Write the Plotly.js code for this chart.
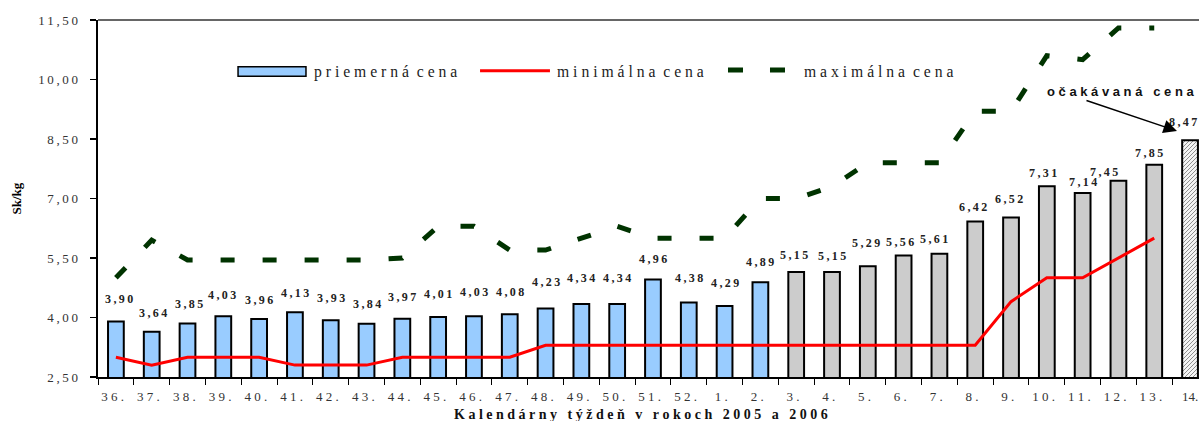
<!DOCTYPE html>
<html><head><meta charset="utf-8">
<script src="https://cdn.plot.ly/plotly-3.0.1.min.js"></script>
<style>html,body{margin:0;padding:0;background:#fff;overflow:hidden}</style>
</head><body><div id="chart" style="width:1199px;height:421px"></div>
<script>
// ---------------- data ----------------
const weeks = ['36.','37.','38.','39.','40.','41.','42.','43.','44.','45.','46.','47.','48.','49.','50.','51.','52.',
               '1.','2.','3.','4.','5.','6.','7.','8.','9.','10.','11.','12.','13.','14.'];
const avgPrice = [3.90,3.64,3.85,4.03,3.96,4.13,3.93,3.84,3.97,4.01,4.03,4.08,4.23,4.34,4.34,4.96,4.38,
                  4.29,4.89,5.15,5.15,5.29,5.56,5.61,6.42,6.52,7.31,7.14,7.45,7.85,8.47];
const minPrice = [3.00,2.80,3.00,3.00,3.00,2.80,2.80,2.80,3.00,3.00,3.00,3.00,3.30,3.30,3.30,3.30,3.30,
                  3.30,3.30,3.30,3.30,3.30,3.30,3.30,3.30,4.40,5.00,5.00,5.50,6.00,null];
const maxPrice = [5.00,5.95,5.45,5.45,5.45,5.45,5.45,5.45,5.50,6.30,6.30,5.70,5.70,6.00,6.30,6.00,6.00,
                  6.00,7.00,7.00,7.30,7.90,7.90,7.90,9.20,9.20,10.60,10.50,11.30,11.30,null];
const yTickVals = [2.5,4,5.5,7,8.5,10,11.5];
const yTickLabels = ['2,50','4,00','5,50','7,00','8,50','10,00','11,50'];
const seriesNames = ['priemerná cena','minimálna cena','maximálna cena'];
const xTitle = 'Kalendárny týždeň v rokoch 2005 a 2006';
const yTitle = 'Sk/kg';
const forecastNote = 'očakávaná cena';
const avgLabels = avgPrice.map(v => v.toFixed(2).replace('.', ','));

// ---------------- presentation ----------------
const NB = '\u00a0', TH = '\u2009';
function spaced(s, sep, wsep){ return s.split(' ').map(w => Array.from(w).join(sep)).join(wsep); }
// label placement nudges (px) for the value labels above the bars
const labelLift = [22,19,19,21,19,19,22,20,22,23,24,22,26,26,26,20,24,23,20,17,16,23,14,15,15,19,13,11,9,12,18];
const labelNudge = [3,1,1,-1,0,0,0,0,0,0,0,0,0,0,0,0,0,0,0,-2,0,-2,-4,-5,-2,-2,-4,0,-14,-5,-7];
const BLUE = '#99CCFF', GRAY = '#CCCCCC', HATCH = '#E2E2E2';
const SERIF = 'Liberation Serif, Times New Roman, serif';
const SANS = 'Liberation Sans, Arial, sans-serif';
const nActual = weeks.indexOf('2.') + 1, nLast = weeks.length - 1;
const idx = weeks.map((w,i) => i);

const barColors = weeks.map((w,i) => i < nActual ? BLUE : (i < nLast ? GRAY : HATCH));

const traces = [
  {type:'bar', name:seriesNames[0], x:weeks, y:avgPrice, width:0.44,
   marker:{color:barColors, line:{color:'#000', width:2}}},
  {type:'scatter', mode:'lines', name:seriesNames[1], x:weeks, y:minPrice,
   line:{color:'#FF0000', width:3}},
  {type:'scatter', mode:'lines', name:seriesNames[2], x:weeks, y:maxPrice,
   line:{color:'#003300', width:5, dash:'14px,28px'}}
];

const annotations = [];
idx.forEach(i => {
  annotations.push({x:i, y:avgPrice[i], xref:'x', yref:'y', showarrow:false,
    text:'<b>'+spaced(avgLabels[i], TH, TH)+'</b>', yanchor:'middle', xanchor:'center',
    yshift:labelLift[i], xshift:labelNudge[i],
    font:{family:SERIF, size:12, color:'#222'}});
});
const legX = [0.1944, 0.4151, 0.6394];
seriesNames.forEach((n,i) => annotations.push({xref:'paper', yref:'paper', x:legX[i], y:0.855,
  xanchor:'left', yanchor:'middle', showarrow:false, text:spaced(n, NB, NB+NB),
  font:{family:SERIF, size:15.7, color:'#222'}}));
annotations.push({xref:'paper', yref:'paper', x:-0.0736, y:0.5, xanchor:'center', yanchor:'middle',
  textangle:-90, showarrow:false,
  text:'<b>'+yTitle+'</b>', font:{family:SERIF, size:13, color:'#000'}});
annotations.push({xref:'paper', yref:'paper', x:0.4932, y:-0.106, xanchor:'center', yanchor:'middle',
  showarrow:false,
  text:'<b>'+spaced(xTitle, NB, NB+NB+NB)+'</b>', font:{family:SERIF, size:14, color:'#111'}});
annotations.push({xref:'paper', yref:'paper', x:0.9287, y:0.80, xanchor:'center', yanchor:'middle',
  showarrow:false,
  text:'<b>'+spaced(forecastNote, NB, NB+NB+NB)+'</b>', font:{family:SANS, size:13, color:'#111'}});
annotations.push({xref:'paper', yref:'paper', x:0.980, y:0.689, ax:-92, ay:-31, text:'',
  showarrow:true, arrowhead:2, arrowsize:1.8, arrowwidth:1.5, arrowcolor:'#000'});

const shapes = [
  {type:'line', xref:'paper', yref:'paper', x0:0, x1:1, y0:1, y1:1, line:{color:'#333', width:1.3}},
  {type:'rect', xref:'paper', yref:'paper', x0:0.1272, x1:0.1889, y0:0.8423, y1:0.8692,
   fillcolor:BLUE, line:{color:'#000', width:1.5}},
  {type:'line', xref:'paper', yref:'paper', x0:0.3470, x1:0.4105, y0:0.858, y1:0.858,
   line:{color:'#FF0000', width:3}},
  {type:'line', xref:'paper', yref:'paper', x0:0.5722, x1:0.6240, y0:0.86, y1:0.86,
   line:{color:'#003300', width:5, dash:'15px,27px'}}
];

// tick labels are letter-spaced; the last one sits at the cut right edge, so it stays compact
const xTickText = weeks.map((w,i) => i === nLast ? w : spaced(w, NB, NB) + NB + NB);

const layout = {
  width:1199, height:421, margin:{l:98, r:0, t:20, b:44},
  paper_bgcolor:'#fff', plot_bgcolor:'#fff', showlegend:false, bargap:0.56,
  xaxis:{type:'category', categoryarray:weeks, range:[-0.5, 30.25],
    tickmode:'array', tickvals:idx, ticktext:xTickText,
    tickangle:0, tickson:'boundaries', ticks:'outside', ticklen:6, tickwidth:1, tickcolor:'#000',
    ticklabelstandoff:6,
    showline:true, linecolor:'#000', linewidth:2, showgrid:false, zeroline:false,
    tickfont:{family:SERIF, size:13, color:'#333'}},
  yaxis:{range:[2.5, 11.5], tickmode:'array', tickvals:yTickVals,
    ticktext:yTickLabels.map(t => spaced(t, TH, TH)),
    ticks:'outside', ticklen:6, tickwidth:1.2, tickcolor:'#000', ticklabelstandoff:9,
    showline:true, linecolor:'#000', linewidth:2.5, showgrid:false, zeroline:false,
    tickfont:{family:SERIF, size:13, color:'#333'}},
  annotations, shapes
};

function applyHatch(gd){
  // fine diagonal hatch for the forecast (last) bar
  const NS = 'http://www.w3.org/2000/svg';
  const svg = gd.querySelector('svg.main-svg');
  let defs = svg.querySelector('defs');
  if (!defs) { defs = document.createElementNS(NS, 'defs'); svg.insertBefore(defs, svg.firstChild); }
  if (!document.getElementById('forecastHatch')) {
    const pat = document.createElementNS(NS, 'pattern');
    pat.setAttribute('id', 'forecastHatch');
    pat.setAttribute('patternUnits', 'userSpaceOnUse');
    pat.setAttribute('width', '4'); pat.setAttribute('height', '4');
    const bg = document.createElementNS(NS, 'rect');
    bg.setAttribute('width', '4'); bg.setAttribute('height', '4'); bg.setAttribute('fill', '#F4F4F4');
    const ln = document.createElementNS(NS, 'path');
    ln.setAttribute('d', 'M-1,1 L1,-1 M0,4 L4,0 M3,5 L5,3');
    ln.setAttribute('stroke', '#8f8f8f'); ln.setAttribute('stroke-width', '1');
    pat.appendChild(bg); pat.appendChild(ln); defs.appendChild(pat);
  }
  const pts = gd.querySelectorAll('.barlayer .point path');
  const last = pts[nLast];
  if (last) last.style.fill = 'url(#forecastHatch)';
}
Plotly.newPlot('chart', traces, layout, {staticPlot:true, displayModeBar:false}).then(applyHatch);
</script></body></html>
